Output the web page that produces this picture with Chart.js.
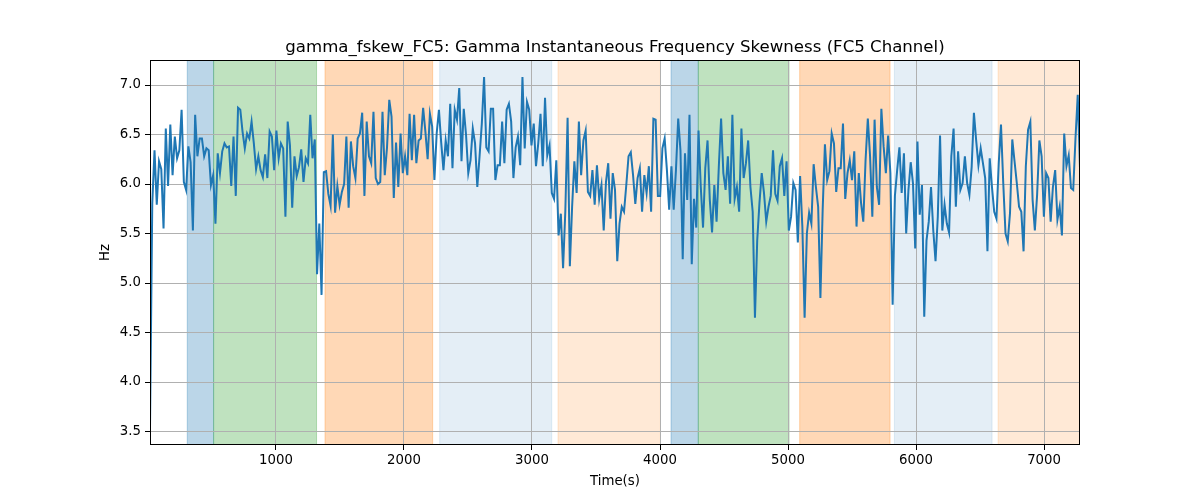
<!DOCTYPE html>
<html>
<head>
<meta charset="utf-8">
<script src="https://cdn.jsdelivr.net/npm/chart.js@4.4.1/dist/chart.umd.min.js"></script>
<style>
  html, body { margin: 0; padding: 0; background: #fff; }
  canvas { display: block; }
</style>
</head>
<body>
<canvas id="skewChart" width="1200" height="500"></canvas>
<script>
// gamma_fskew_FC5 - значения
const chartTitle = 'gamma_fskew_FC5: Gamma Instantaneous Frequency Skewness (FC5 Channel)';
const t0 = 16;
const dt = 17.633;

const skewHz = [
  // 0 - 900
  3.54, 5.8, 6.34, 5.79, 6.23, 6.15, 5.55, 6.56, 5.98, 6.6, 6.09, 6.48, 6.26, 6.34, 6.75, 6.02, 5.94, 6.38, 6.22, 5.53,
  6.7, 6.28, 6.46, 6.46, 6.28, 6.36, 6.34, 5.99, 6.09, 5.6, 6.31, 6.11, 6.33, 6.41, 6.37, 6.38, 5.98, 6.48, 5.88, 6.77,
  6.75, 6.53, 6.36, 6.51, 6.46, 6.63, 6.41, 6.15, 6.28, 6.14, 6.07,
  // 900 - 1830
  6.3, 6.06, 6.53, 6.48, 6.14, 6.54, 6.26, 6.41, 6.36, 5.67, 6.63, 6.39, 5.76, 6.28, 6.08, 6.17, 6.35, 6.02, 6.26, 6.21,
  6.7, 6.26, 6.45, 5.09, 5.6, 4.88, 6.12, 6.13, 5.9, 5.78, 6.5, 5.71, 5.98, 5.79, 5.92, 6.0, 6.48, 5.76, 6.43, 6.18,
  6.06, 6.46, 6.51, 6.72, 5.88, 6.63, 6.28, 6.21, 6.73, 6.06, 6.0, 6.02,
  // 1830 - 2740
  6.73, 6.09, 6.37, 6.85, 6.68, 5.86, 6.42, 5.97, 6.51, 6.11, 6.28, 6.09, 6.71, 6.24, 6.7, 6.21, 6.44, 6.46, 6.77, 6.53,
  6.25, 6.71, 6.58, 6.04, 6.51, 6.75, 6.42, 6.14, 6.44, 6.28, 6.81, 6.16, 6.75, 6.65, 6.97, 6.23, 6.76, 6.5, 6.11, 6.24,
  6.56, 6.41, 5.97, 6.28, 6.61, 7.08, 6.37, 6.33, 6.76, 6.76, 6.04, 6.19,
  // 2740 - 3660
  6.19, 6.63, 6.21, 6.75, 6.81, 6.63, 6.06, 6.37, 6.48, 6.19, 7.08, 6.36, 6.83, 6.75, 6.39, 6.61, 6.18, 6.41, 6.71, 6.18,
  6.87, 6.29, 6.39, 5.91, 5.85, 6.24, 5.48, 5.7, 5.15, 5.73, 6.67, 5.17, 5.77, 6.23, 5.91, 6.63, 6.09, 6.44, 6.54, 5.92,
  5.88, 6.14, 5.79, 6.19, 5.85, 5.99, 5.53, 6.02, 6.21, 5.65, 6.11, 5.94,
  // 3660 - 4570
  5.22, 5.6, 5.77, 5.72, 5.99, 6.28, 6.32, 6.09, 5.8, 6.06, 6.16, 5.72, 6.09, 5.91, 6.18, 5.72, 6.66, 6.65, 5.88, 5.88,
  6.36, 6.46, 6.14, 5.74, 6.18, 5.74, 6.14, 6.66, 6.34, 5.24, 6.31, 5.84, 6.7, 5.19, 5.85, 5.56, 6.54, 5.97, 5.56, 6.16,
  6.44, 5.84, 5.51, 5.99, 5.62, 6.18, 6.66, 6.11, 5.94, 6.28, 5.8, 6.7,
  // 4570 - 5480
  5.85, 5.97, 5.72, 6.56, 6.06, 6.21, 6.44, 5.97, 5.72, 4.65, 5.43, 5.81, 6.11, 5.91, 5.62, 5.77, 5.88, 6.34, 5.9, 5.83,
  6.18, 6.26, 5.88, 6.23, 5.53, 5.67, 6.01, 5.94, 5.41, 6.08, 5.57, 4.65, 5.5, 5.71, 5.6, 6.2, 5.97, 5.77, 4.85, 5.74,
  6.4, 6.04, 6.13, 6.51, 6.41, 5.92, 6.16, 6.16, 6.61, 5.85, 6.11, 6.24,
  // 5480 - 6400
  6.04, 6.33, 5.57, 6.11, 5.81, 5.62, 6.24, 6.66, 6.28, 5.67, 6.65, 5.97, 5.79, 6.76, 6.38, 6.11, 6.49, 6.11, 4.78, 5.88,
  6.14, 6.37, 5.91, 6.31, 5.5, 5.94, 6.22, 6.01, 5.35, 6.43, 5.69, 5.99, 4.66, 5.43, 5.62, 5.97, 5.53, 5.22, 5.67, 6.49,
  5.53, 5.79, 5.6, 5.51, 6.28, 6.56, 5.77, 6.33, 5.94, 6.01, 6.28, 6.01,
  // 6400 - 7280
  5.89, 6.17, 6.72, 6.44, 6.19, 6.36, 6.21, 6.06, 5.32, 6.26, 5.97, 5.72, 5.65, 6.21, 6.6, 6.01, 5.5, 5.42, 5.71, 6.45,
  6.23, 6.01, 5.77, 5.72, 5.32, 6.18, 6.55, 6.63, 5.84, 5.53, 5.89, 6.44, 6.28, 5.67, 6.11, 6.06, 5.62, 5.97, 6.14, 5.64,
  5.77, 5.48, 6.51, 6.18, 6.29, 5.96, 5.94, 6.46, 6.9, 6.16
];

const times = skewHz.map((v, i) => t0 + i * dt);

// полосы состояний
const bandStart = [307, 513, 1383, 2279, 3203, 4086, 4299, 5091, 5831, 6641];
const bandEnd   = [513, 1317, 2224, 3154, 4003, 4299, 5008, 5797, 6594, 7300];
const bandState = ['A', 'B', 'C', 'D', 'E', 'A', 'B', 'C', 'D', 'E'];

const yTicks = [3.5, 4.0, 4.5, 5.0, 5.5, 6.0, 6.5, 7.0];
const xTicks = [1000, 2000, 3000, 4000, 5000, 6000, 7000];

const stateColor = {
  A: 'rgba(31,119,180,0.3)',
  B: 'rgba(44,160,44,0.3)',
  C: 'rgba(255,127,14,0.3)',
  D: 'rgba(31,119,180,0.12)',
  E: 'rgba(255,127,14,0.17)'
};

const yMin = 3.364, yMax = 7.2525;
const fontFamily = '"DejaVu Sans", sans-serif';

const bandsPlugin = {
  id: 'bands',
  beforeDraw(chart) {
    const { ctx, chartArea: a, scales: { x } } = chart;
    ctx.save();
    ctx.beginPath();
    ctx.rect(a.left, a.top, a.right - a.left, a.bottom - a.top);
    ctx.clip();
    bandStart.forEach((s, i) => {
      const x1 = x.getPixelForValue(s);
      const x2 = x.getPixelForValue(bandEnd[i]);
      ctx.fillStyle = stateColor[bandState[i]];
      ctx.fillRect(x1, a.top, x2 - x1, a.bottom - a.top);
      ctx.strokeStyle = stateColor[bandState[i]];
      ctx.lineWidth = 1;
      ctx.beginPath();
      ctx.moveTo(x1, a.top); ctx.lineTo(x1, a.bottom);
      ctx.moveTo(x2, a.top); ctx.lineTo(x2, a.bottom);
      ctx.stroke();
    });
    ctx.restore();
  },
  afterDatasetsDraw(chart) {
    const { ctx, chartArea: a } = chart;
    ctx.save();
    ctx.strokeStyle = '#000';
    ctx.lineWidth = 1;
    ctx.strokeRect(a.left + 0.5, a.top + 0.5, a.right - a.left - 1, a.bottom - a.top - 1);
    ctx.fillStyle = '#000';
    ctx.font = '16.6px ' + fontFamily;
    ctx.textAlign = 'center';
    ctx.textBaseline = 'alphabetic';
    ctx.fillText(chartTitle, (a.left + a.right) / 2, a.top - 8);
    ctx.restore();
  }
};

new Chart(document.getElementById('skewChart'), {
  type: 'line',
  data: {
    datasets: [{
      label: 'gamma_fskew_FC5',
      data: times.map((t, i) => ({ x: t, y: skewHz[i] })),
      borderColor: '#1f77b4',
      borderWidth: 2,
      pointRadius: 0,
      tension: 0,
      fill: false
    }]
  },
  options: {
    responsive: false,
    animation: false,
    layout: { padding: { left: 90, right: 120, top: 60, bottom: 0 } },
    plugins: {
      legend: { display: false },
      tooltip: { enabled: false }
    },
    scales: {
      x: {
        type: 'linear',
        min: times[0],
        max: times[times.length - 1],
        afterFit(scale) { scale.height = 55; },
        afterBuildTicks(scale) { scale.ticks = xTicks.map(v => ({ value: v })); },
        ticks: {
          color: '#000',
          font: { family: fontFamily, size: 13.3 },
          padding: 3,
          maxRotation: 0,
          callback: v => String(v)
        },
        grid: { color: '#b0b0b0', lineWidth: 1, tickLength: 5, tickColor: '#000' },
        border: { display: false },
        title: {
          display: true,
          text: 'Time(s)',
          color: '#000',
          font: { family: fontFamily, size: 13.3 },
          padding: { top: 0, bottom: 10 }
        }
      },
      y: {
        min: yMin,
        max: yMax,
        afterFit(scale) { scale.width = 60; },
        afterBuildTicks(scale) { scale.ticks = yTicks.map(v => ({ value: v })); },
        ticks: {
          color: '#000',
          font: { family: fontFamily, size: 13.3 },
          padding: 4,
          callback: v => Number(v).toFixed(1)
        },
        grid: { color: '#b0b0b0', lineWidth: 1, tickLength: 5, tickColor: '#000' },
        border: { display: false },
        title: {
          display: true,
          text: 'Hz',
          color: '#000',
          font: { family: fontFamily, size: 13.3 },
          padding: { top: 8, bottom: 0 }
        }
      }
    }
  },
  plugins: [bandsPlugin]
});
</script>
</body>
</html>
